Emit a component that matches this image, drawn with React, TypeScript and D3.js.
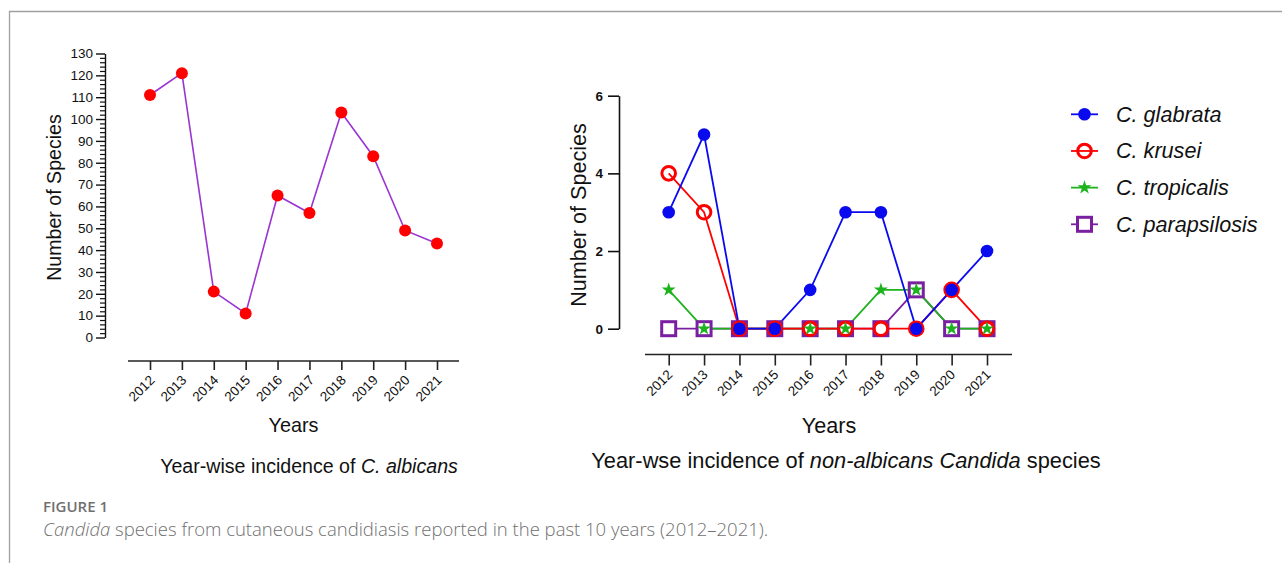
import React, { useRef, useEffect } from 'react';
import * as d3 from 'd3';

const years = ['2012', '2013', '2014', '2015', '2016', '2017', '2018', '2019', '2020', '2021'];
const albicans = [111, 121, 21, 11, 65, 57, 103, 83, 49, 43];

const glabrata = [3, 5, 0, 0, 1, 3, 3, 0, 1, 2];
const krusei = [4, 3, 0, 0, 0, 0, 0, 0, 1, 0];
const tropicalis = [1, 0, 0, 0, 0, 0, 1, 1, 0, 0];
const parapsilosis = [0, 0, 0, 0, 0, 0, 0, 1, 0, 0];

const leftTicks = d3.range(0, 131, 10);
const rightTicks = [0, 2, 4, 6];

const series = [
  { name: 'C. parapsilosis', values: parapsilosis, color: '#7a1fa2', marker: 'square' },
  { name: 'C. tropicalis', values: tropicalis, color: '#1db31d', marker: 'star' },
  { name: 'C. krusei', values: krusei, color: '#ff0000', marker: 'ring' },
  { name: 'C. glabrata', values: glabrata, color: '#0a0aef', marker: 'dot' },
];
const legendOrder = ['C. glabrata', 'C. krusei', 'C. tropicalis', 'C. parapsilosis'];

const FONT = 'Liberation Sans, Arial, sans-serif';

const App = () => {
  const svgRef = useRef(null);

  useEffect(() => {
    const svg = d3.select(svgRef.current);
    svg.selectAll('*').remove();

    // frame
    svg.append('path')
       .attr('d', 'M9.5,563 L9.5,11.5 L1282,11.5')
       .attr('fill', 'none')
       .attr('stroke', '#a0a0a0')
       .attr('stroke-width', 1.3);

    // ---------- left chart ----------
    const xL = d3.scalePoint().domain(years).range([150, 437]);
    const yL = d3.scaleLinear().domain([0, 130]).range([337.5, 53.5]);
    const left = svg.append('g').attr('font-family', FONT);

    const yAxL = left.append('g')
      .attr('transform', 'translate(105,0)')
      .call(d3.axisLeft(yL).tickValues(leftTicks).tickSize(9).tickPadding(3).tickSizeOuter(0));
    yAxL.selectAll('text').attr('font-size', 13.5).attr('font-family', FONT).attr('fill', '#111');
    yAxL.selectAll('line, path').attr('stroke', '#111').attr('stroke-width', 1.4);
    left.append('g')
      .attr('transform', 'translate(105,0)')
      .call(d3.axisLeft(yL).tickValues(d3.range(0, 131, 2).filter(v => v % 10 !== 0)).tickSize(5).tickFormat(() => ''))
      .call(g => g.select('.domain').remove())
      .selectAll('line').attr('stroke', '#111').attr('stroke-width', 1.2);

    left.append('line')
      .attr('x1', 128).attr('x2', 459).attr('y1', 361).attr('y2', 361)
      .attr('stroke', '#222').attr('stroke-width', 1.6);
    const xAxL = left.append('g')
      .attr('transform', 'translate(0,361)')
      .call(d3.axisBottom(xL).tickSize(9).tickSizeOuter(0));
    xAxL.select('.domain').remove();
    xAxL.selectAll('line').attr('stroke', '#222').attr('stroke-width', 1.6);
    xAxL.selectAll('text')
      .attr('font-size', 13.5).attr('font-family', FONT).attr('fill', '#111')
      .attr('text-anchor', 'end')
      .attr('y', 0).attr('dy', 0)
      .attr('transform', 'translate(5,20) rotate(-45)');

    left.append('path')
      .datum(albicans)
      .attr('fill', 'none')
      .attr('stroke', '#9a34d2')
      .attr('stroke-width', 1.6)
      .attr('d', d3.line<number>().x((d, i) => xL(years[i])).y(d => yL(d)));
    left.selectAll('circle.pt')
      .data(albicans)
      .join('circle')
      .attr('cx', (d, i) => xL(years[i]))
      .attr('cy', d => yL(d))
      .attr('r', 6)
      .attr('fill', '#ff0000');

    left.append('text')
      .attr('transform', 'translate(54,197.5) rotate(-90)')
      .attr('text-anchor', 'middle').attr('dominant-baseline', 'central')
      .attr('font-size', 19.6).attr('fill', '#111')
      .text('Number of Species');
    left.append('text')
      .attr('x', 293.5).attr('y', 432)
      .attr('text-anchor', 'middle')
      .attr('font-size', 19.8).attr('fill', '#111')
      .text('Years');
    const tL = left.append('text')
      .attr('x', 309).attr('y', 473)
      .attr('text-anchor', 'middle')
      .attr('font-size', 19.6).attr('fill', '#111');
    tL.append('tspan').text('Year-wise incidence of ');
    tL.append('tspan').attr('font-style', 'italic').text('C. albicans');

    // ---------- right chart ----------
    const xR = d3.scalePoint().domain(years).range([668.7, 987]);
    const yR = d3.scaleLinear().domain([0, 6]).range([328.7, 95.7]);
    const right = svg.append('g').attr('font-family', FONT);

    const yAxR = right.append('g')
      .attr('transform', 'translate(619,0)')
      .call(d3.axisLeft(yR).tickValues(rightTicks).tickFormat(d3.format('d')).tickSize(11).tickPadding(5).tickSizeOuter(0));
    yAxR.selectAll('text').attr('font-size', 13.5).attr('font-weight', 'bold').attr('font-family', FONT).attr('fill', '#111');
    yAxR.selectAll('line, path').attr('stroke', '#111').attr('stroke-width', 1.6);

    right.append('line')
      .attr('x1', 645).attr('x2', 1012).attr('y1', 354.5).attr('y2', 354.5)
      .attr('stroke', '#222').attr('stroke-width', 1.6);
    const xAxR = right.append('g')
      .attr('transform', 'translate(0,354.5)')
      .call(d3.axisBottom(xR).tickSize(11).tickSizeOuter(0));
    xAxR.select('.domain').remove();
    xAxR.selectAll('line').attr('stroke', '#222').attr('stroke-width', 1.6);
    xAxR.selectAll('text')
      .attr('font-size', 13.5).attr('font-family', FONT).attr('fill', '#111')
      .attr('text-anchor', 'end')
      .attr('y', 0).attr('dy', 0)
      .attr('transform', 'translate(4,21) rotate(-45)');

    const line = d3.line<number>().x((d, i) => xR(years[i])).y(d => yR(d));
    series.forEach(s => {
      right.append('path')
        .datum(s.values)
        .attr('fill', 'none')
        .attr('stroke', s.color)
        .attr('stroke-width', 1.8)
        .attr('d', line);
    });

    const drawMarker = (g, marker, color, x, y) => {
      if (marker === 'square') {
        g.append('rect')
          .attr('x', x - 7).attr('y', y - 7).attr('width', 14).attr('height', 14)
          .attr('fill', 'white').attr('stroke', color).attr('stroke-width', 3);
      } else if (marker === 'ring') {
        g.append('circle')
          .attr('cx', x).attr('cy', y).attr('r', 6.8)
          .attr('fill', 'none').attr('stroke', color).attr('stroke-width', 3);
      } else if (marker === 'star') {
        g.append('path')
          .attr('transform', `translate(${x},${y})`)
          .attr('d', d3.symbol().type(d3.symbolStar).size(60)())
          .attr('fill', color);
      } else {
        g.append('circle')
          .attr('cx', x).attr('cy', y).attr('r', 6.3)
          .attr('fill', color);
      }
    };

    ['square', 'ring', 'star', 'dot'].forEach(m => {
      const s = series.find(d => d.marker === m);
      s.values.forEach((v, i) => drawMarker(right, s.marker, s.color, xR(years[i]), yR(v)));
    });

    right.append('text')
      .attr('transform', 'translate(578,215) rotate(-90)')
      .attr('text-anchor', 'middle').attr('dominant-baseline', 'central')
      .attr('font-size', 21.6).attr('fill', '#111')
      .text('Number of Species');
    right.append('text')
      .attr('x', 829).attr('y', 433)
      .attr('text-anchor', 'middle')
      .attr('font-size', 21.6).attr('fill', '#111')
      .text('Years');
    const tR = right.append('text')
      .attr('x', 846).attr('y', 468)
      .attr('text-anchor', 'middle')
      .attr('font-size', 21.8).attr('fill', '#111');
    tR.append('tspan').text('Year-wse incidence of ');
    tR.append('tspan').attr('font-style', 'italic').text('non-albicans Candida');
    tR.append('tspan').text(' species');

    // legend
    const legY = d3.scalePoint().domain(legendOrder).range([114.3, 224.3]);
    legendOrder.forEach(name => {
      const s = series.find(d => d.name === name);
      const y = legY(name);
      right.append('line')
        .attr('x1', 1071).attr('x2', 1098).attr('y1', y).attr('y2', y)
        .attr('stroke', s.color).attr('stroke-width', 1.8);
      drawMarker(right, s.marker, s.color, 1084.5, y);
      right.append('text')
        .attr('x', 1116).attr('y', y + 7.5)
        .attr('font-size', 21.6).attr('font-style', 'italic').attr('fill', '#111')
        .text(name);
    });

    // caption
    svg.append('text')
      .attr('x', 43).attr('y', 512)
      .attr('font-family', 'Open Sans, sans-serif')
      .attr('font-size', 15).attr('font-weight', 600).attr('fill', '#707070')
      .text('FIGURE 1');
    const cap = svg.append('text')
      .attr('x', 43).attr('y', 535.5)
      .attr('font-family', 'Open Sans, sans-serif')
      .attr('font-size', 18.5).attr('font-weight', 300).attr('fill', '#707070');
    cap.append('tspan').attr('font-style', 'italic').text('Candida');
    cap.append('tspan').text(' species from cutaneous candidiasis reported in the past 10 years (2012–2021).');
  }, []);

  return (
    <svg
      ref={svgRef}
      width={1282}
      height={563}
      style={{ position: 'absolute', left: 0, top: 0, background: 'white', display: 'block' }}
    ></svg>
  );
};

export default App;
